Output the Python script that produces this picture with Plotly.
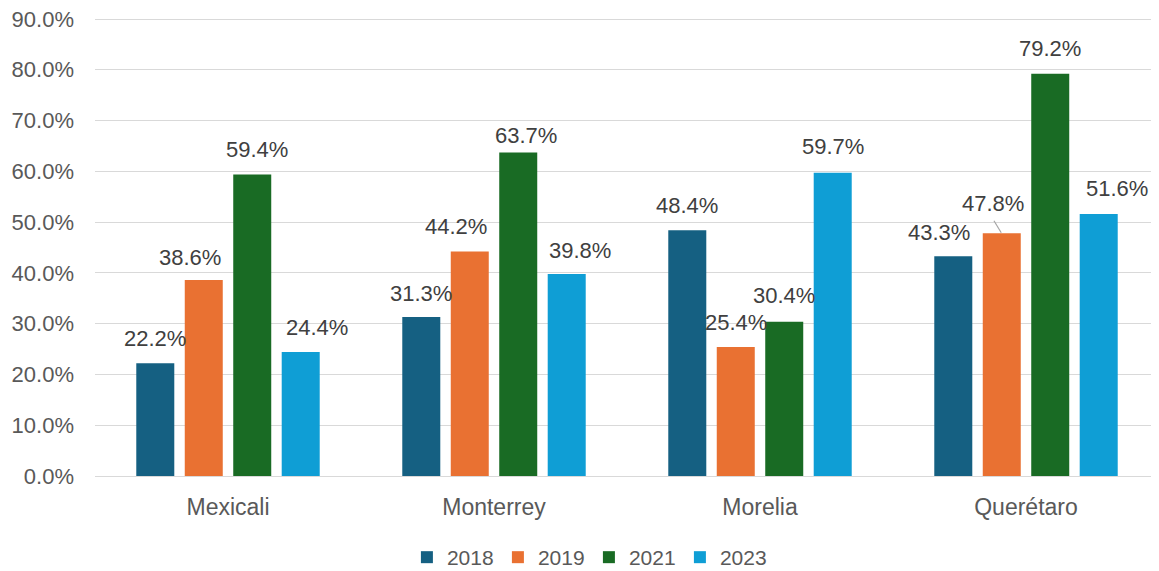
import plotly.graph_objects as go

# ---- data ----
categories = ["Mexicali", "Monterrey", "Morelia", "Querétaro"]
series_names = ["2018", "2019", "2021", "2023"]
values_2018 = [0.222, 0.313, 0.484, 0.433]
values_2019 = [0.386, 0.442, 0.254, 0.478]
values_2021 = [0.594, 0.637, 0.304, 0.792]
values_2023 = [0.244, 0.398, 0.597, 0.516]
y_tick_values = [0.0, 0.1, 0.2, 0.3, 0.4, 0.5, 0.6, 0.7, 0.8, 0.9]

# ---- style ----
colors = ["#156082", "#E97132", "#196B24", "#0F9ED5"]
FONT = "Liberation Sans, Arial, sans-serif"
# pixel nudges of data labels (per series, per category), as in the reference
label_dx = [[0, 0, 0, -14], [-13.5, -14, 0, -8.5], [5, 7.5, 0, 0], [16, 13, 0, 18]]
label_dy = [[25, 24, 25, 24], [23, 25, 25, 30], [25, 17, 26, 25], [25, 23, 26, 26]]

BARGAP = 0.271
BARGROUPGAP = 0.216
all_series = [values_2018, values_2019, values_2021, values_2023]
n = len(all_series)
slot = (1 - BARGAP) / n

fig = go.Figure()
for name, vals, col in zip(series_names, all_series, colors):
    fig.add_trace(go.Bar(x=categories, y=vals, name=name, marker_color=col,
                         marker_line_width=0))

annotations = []
shapes = []
for s, vals in enumerate(all_series):
    off = (s - (n - 1) / 2) * slot
    for c, v in enumerate(vals):
        annotations.append(dict(
            x=c + off, y=v, xref="x", yref="y", text=f"{v*100:.1f}%",
            showarrow=False, xanchor="center", yanchor="middle",
            xshift=label_dx[s][c], yshift=label_dy[s][c],
            font=dict(family=FONT, size=22, color="#404040")))

# leader line for the Querétaro 2019 label
off19 = (1 - (n - 1) / 2) * slot
shapes.append(dict(type="line", xref="x", yref="y", xsizemode="pixel", ysizemode="pixel",
                   xanchor=3 + off19, yanchor=values_2019[3],
                   x0=-0.5, x1=-7.8, y0=0.5, y1=12.5,
                   line=dict(color="#A6A6A6", width=1.2)))

# the page body has an 8px default margin, so the figure is 8px smaller
fig.update_layout(
    width=1151, height=563,
    margin=dict(l=87, r=0, t=10, b=95, autoexpand=False),
    paper_bgcolor="white", plot_bgcolor="white",
    barmode="group", bargap=BARGAP, bargroupgap=BARGROUPGAP,
    font=dict(family=FONT, size=22, color="#595959"),
    annotations=annotations, shapes=shapes,
    legend=dict(orientation="h", x=0.4642, xanchor="center", y=-0.178, yanchor="middle",
                font=dict(family=FONT, size=21, color="#595959"),
                entrywidth=46, entrywidthmode="pixels", itemwidth=30,
                traceorder="normal"),
    showlegend=True,
)
fig.update_yaxes(range=[0, 0.902], tickvals=y_tick_values, tickformat=".1%",
                 showgrid=True, gridcolor="#D9D9D9", gridwidth=1.3,
                 zeroline=False, showline=False, ticks="", automargin=False,
                 ticklabelstandoff=20, ticklabeloverflow="allow",
                 tickfont=dict(family=FONT, size=22, color="#595959"))
fig.update_xaxes(showline=True, linecolor="#D9D9D9", linewidth=1.3, ticks="",
                 automargin=False, ticklabelstandoff=10,
                 tickfont=dict(family=FONT, size=23, color="#595959"))

fig.write_html("out.html")
